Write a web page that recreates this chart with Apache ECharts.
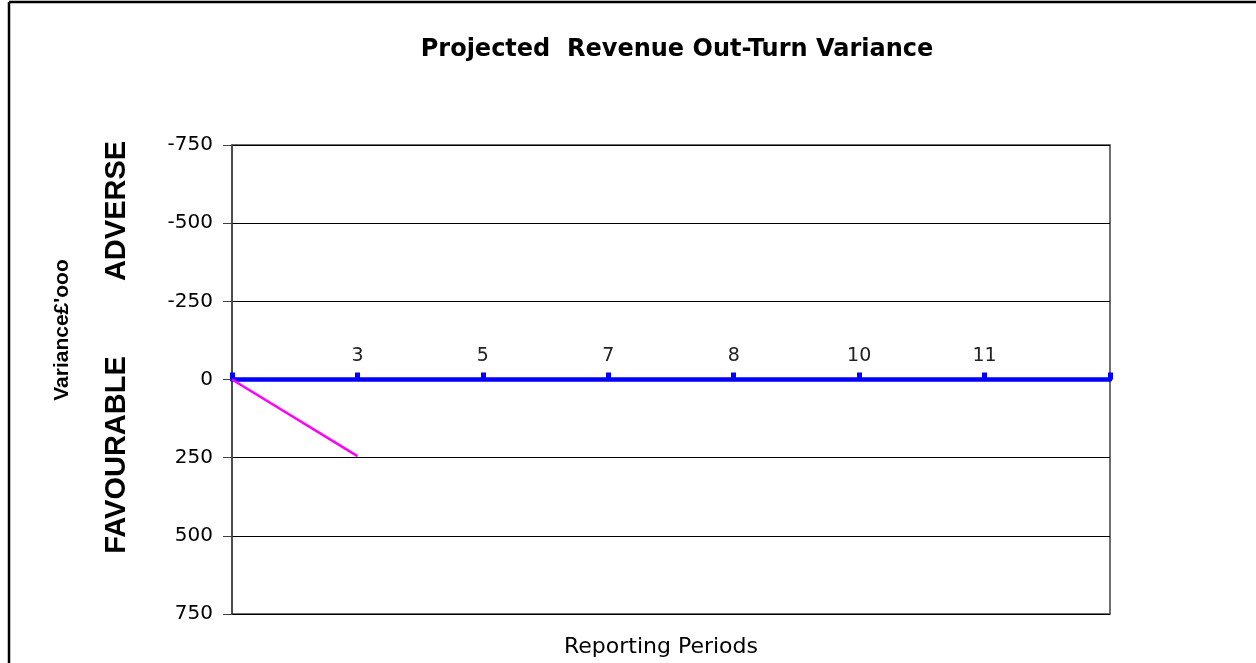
<!DOCTYPE html>
<html>
<head>
<meta charset="utf-8">
<script src="https://cdn.jsdelivr.net/npm/echarts@6/dist/echarts.min.js"></script>
<style>
html,body{margin:0;padding:0;background:#fff;}
#chart{width:1256px;height:663px;}
</style>
</head>
<body>
<div id="chart"></div>
<script>
// Data
const periods = ["", "3", "5", "7", "8", "10", "11", ""];
const varianceValues = [0, 245, null, null, null, null, null, null];
const yTicks = [-750, -500, -250, 0, 250, 500, 750];

const chart = echarts.init(document.getElementById('chart'), null, {renderer: 'canvas'});
const hFont = 'DejaVu Sans';
const rFont = 'Liberation Sans, Arial';

chart.setOption({
  animation: false,
  backgroundColor: '#ffffff',
  title: {
    text: 'Projected  Revenue Out-Turn Variance',
    left: 672,
    textAlign: 'center',
    top: 33,
    textStyle: {fontFamily: hFont, fontSize: 24, fontWeight: 'bold', color: '#000'}
  },
  grid: {
    left: 232, right: 146, top: 145, bottom: 49,
    show: true, borderColor: '#404040', borderWidth: 1.5, backgroundColor: 'transparent'
  },
  xAxis: {
    type: 'category',
    data: periods,
    boundaryGap: false,
    position: 'bottom',
    offset: -234.5,
    axisLine: {onZero: false, lineStyle: {color: '#0000ff', width: 4.5}},
    axisTick: {show: true, inside: true, length: 7, lineStyle: {color: '#0000ff', width: 5}},
    axisLabel: {inside: true, margin: 14, color: '#222', fontFamily: hFont, fontSize: 19, interval: 0},
    splitLine: {show: false}
  },
  yAxis: {
    type: 'value',
    inverse: true,
    min: yTicks[0],
    max: yTicks[yTicks.length - 1],
    interval: 250,
    axisLine: {show: true, lineStyle: {color: '#404040', width: 1.5}},
    axisTick: {show: true, inside: false, length: 9, lineStyle: {color: '#404040', width: 1}},
    axisLabel: {margin: 19, color: '#000', fontFamily: hFont, fontSize: 20},
    splitLine: {show: true, lineStyle: {color: '#000', width: 1}}
  },
  series: [{
    type: 'line',
    data: varianceValues,
    showSymbol: false,
    connectNulls: false,
    lineStyle: {color: '#ff00ff', width: 2.5},
    itemStyle: {color: '#ff00ff'},
    z: 3
  }],
  graphic: [
    {type: 'line', shape: {x1: 9, y1: 2, x2: 9, y2: 663}, style: {stroke: '#000', lineWidth: 2.5}},
    {type: 'line', shape: {x1: 9, y1: 2, x2: 1256, y2: 2}, style: {stroke: '#000', lineWidth: 2.5}},
    {type: 'text', x: 661, y: 647, style: {text: 'Reporting Periods', fontFamily: hFont, fontSize: 22, fill: '#000', align: 'center', verticalAlign: 'middle'}},
    {type: 'text', x: 62, y: 330, rotation: Math.PI / 2, style: {text: "Variance£'ooo", fontFamily: rFont, fontSize: 21, fontWeight: 'bold', fill: '#000', align: 'center', verticalAlign: 'middle'}},
    {type: 'text', x: 117, y: 211, rotation: Math.PI / 2, style: {text: 'ADVERSE', fontFamily: rFont, fontSize: 29, fontWeight: 'bold', fill: '#000', align: 'center', verticalAlign: 'middle'}},
    {type: 'text', x: 117, y: 455, rotation: Math.PI / 2, style: {text: 'FAVOURABLE', fontFamily: rFont, fontSize: 29, fontWeight: 'bold', fill: '#000', align: 'center', verticalAlign: 'middle'}}
  ]
});
</script>
</body>
</html>
